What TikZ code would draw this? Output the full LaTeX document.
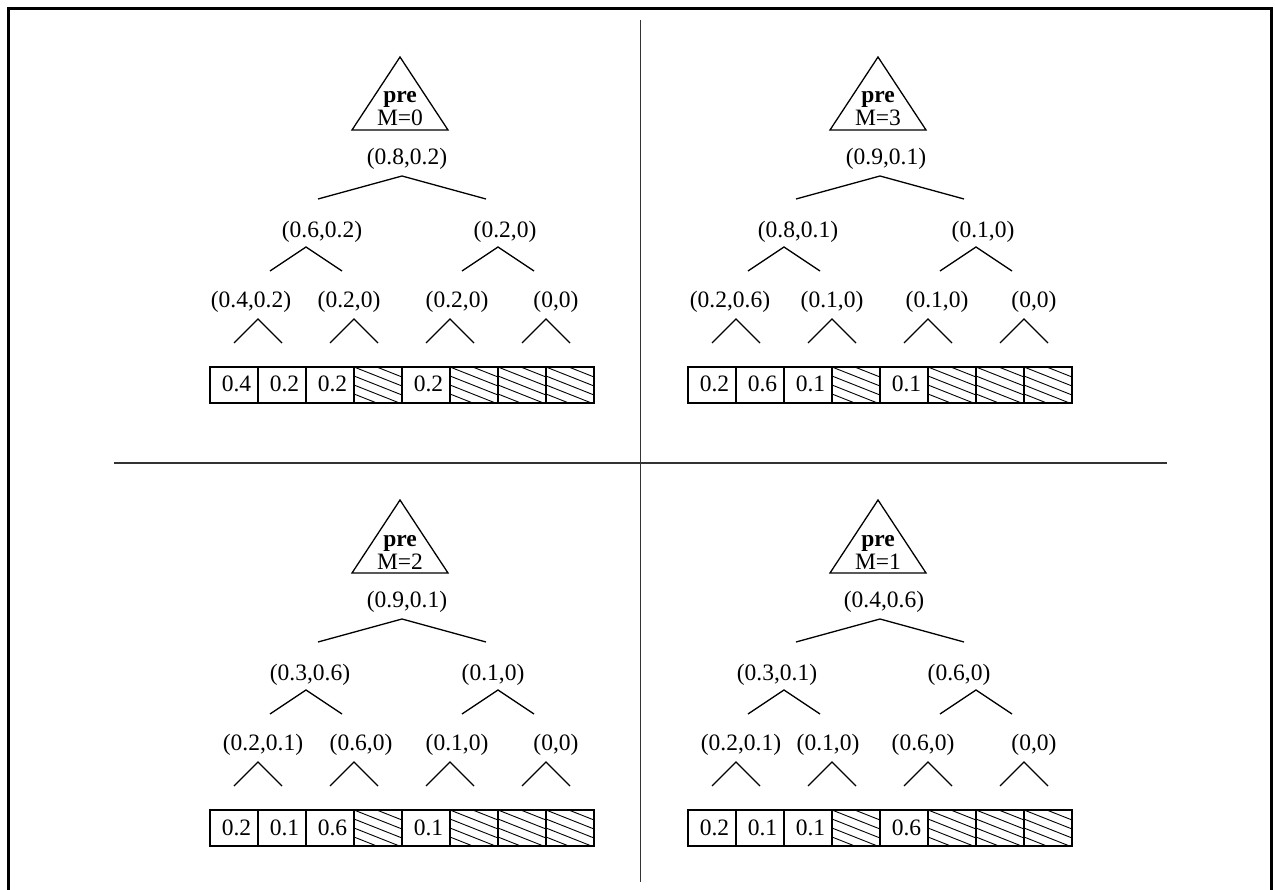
\documentclass[tikz,border=0pt]{standalone}
\usepackage{fontspec}
\setmainfont{Liberation Serif}
\newcommand\treebase[6]{%
  % #1 prefix, #2 M value, #3..#6 values of cells 1,2,3,5
  \draw[tri] (190,57) coordinate (#1-apex) -- (238,130) coordinate (#1-br) -- (142,130) coordinate (#1-bl) -- cycle;
  \node[txt, anchor=base] (#1-pre) at (190,103) {\textbf{pre}};
  \node[txt, anchor=base] (#1-m) at (190,126) {M=#2};
  \draw[br] (108,199) -- (192,176) -- (276,199);
  \foreach \a in {96,288} \draw[br] (\a-36,271) -- (\a,247) -- (\a+36,271);
  \foreach \a in {48,144,240,336} \draw[br] (\a-24,343) -- (\a,319) -- (\a+24,343);
  \foreach \c in {3,5,6,7} {%
    \begin{scope}
      \clip (\c*48,367) rectangle ++(48,36);
      \foreach \k in {-3,...,4} \draw[hatch] (\c*48,367+\k*9) -- ++(48,19);
    \end{scope}}
  \foreach \c in {0,...,7} \draw[cellbox] (\c*48,367) rectangle ++(48,36);
  \node[txt, anchor=base] (#1-c1) at (26.5,392) {#3};
  \node[txt, anchor=base] (#1-c2) at (74.5,392) {#4};
  \node[txt, anchor=base] (#1-c3) at (122.5,392) {#5};
  \node[txt, anchor=base] (#1-c5) at (218.5,392) {#6};
}
\begin{document}
\begin{tikzpicture}[x=1pt,y=-1pt,
  txt/.style={inner sep=0pt, font=\fontsize{23.5}{24}\selectfont},
  lbl/.style={txt, anchor=center, yshift=-2pt},
  br/.style={line width=1.3pt},
  tri/.style={line width=1.3pt, line join=miter},
  cellbox/.style={draw, line width=1.5pt},
  hatch/.style={line width=0.9pt},
  divider/.style={line width=1.6pt, draw=black!80},
  frame/.style={line width=3pt}]
\useasboundingbox (0,0) rectangle (1275,890);
\draw[frame] (8.5,890) -- (8.5,8.5) -- (1271.5,8.5) -- (1271.5,890);
\draw[divider] (640.5,20) -- (640.5,882);
\draw[divider] (114,463) -- (1167,463);
% top left
\begin{scope}[shift={(210,0)}]
  \treebase{tl}{0}{0.4}{0.2}{0.2}{0.2}
  \node[lbl] (tl-r) at (197,157) {(0.8,0.2)};
  \node[lbl] (tl-a) at (112,230) {(0.6,0.2)};
  \node[lbl] (tl-b) at (295,230) {(0.2,0)};
  \node[lbl] (tl-1) at (41,300) {(0.4,0.2)};
  \node[lbl] (tl-2) at (139,300) {(0.2,0)};
  \node[lbl] (tl-3) at (247,300) {(0.2,0)};
  \node[lbl] (tl-4) at (346,300) {(0,0)};
\end{scope}
% top right
\begin{scope}[shift={(688,0)}]
  \treebase{tr}{3}{0.2}{0.6}{0.1}{0.1}
  \node[lbl] (tr-r) at (198,157) {(0.9,0.1)};
  \node[lbl] (tr-a) at (110,230) {(0.8,0.1)};
  \node[lbl] (tr-b) at (295,230) {(0.1,0)};
  \node[lbl] (tr-1) at (42,300) {(0.2,0.6)};
  \node[lbl] (tr-2) at (144,300) {(0.1,0)};
  \node[lbl] (tr-3) at (249,300) {(0.1,0)};
  \node[lbl] (tr-4) at (346,300) {(0,0)};
\end{scope}
% bottom left
\begin{scope}[shift={(210,443)}]
  \treebase{bl}{2}{0.2}{0.1}{0.6}{0.1}
  \node[lbl] (bl-r) at (197,157) {(0.9,0.1)};
  \node[lbl] (bl-a) at (100,230) {(0.3,0.6)};
  \node[lbl] (bl-b) at (283,230) {(0.1,0)};
  \node[lbl] (bl-1) at (53,300) {(0.2,0.1)};
  \node[lbl] (bl-2) at (151,300) {(0.6,0)};
  \node[lbl] (bl-3) at (247,300) {(0.1,0)};
  \node[lbl] (bl-4) at (346,300) {(0,0)};
\end{scope}
% bottom right
\begin{scope}[shift={(688,443)}]
  \treebase{brq}{1}{0.2}{0.1}{0.1}{0.6}
  \node[lbl] (brq-r) at (196,157) {(0.4,0.6)};
  \node[lbl] (brq-a) at (89,230) {(0.3,0.1)};
  \node[lbl] (brq-b) at (271,230) {(0.6,0)};
  \node[lbl] (brq-1) at (53,300) {(0.2,0.1)};
  \node[lbl] (brq-2) at (140,300) {(0.1,0)};
  \node[lbl] (brq-3) at (235,300) {(0.6,0)};
  \node[lbl] (brq-4) at (346,300) {(0,0)};
\end{scope}
\end{tikzpicture}
\end{document}
